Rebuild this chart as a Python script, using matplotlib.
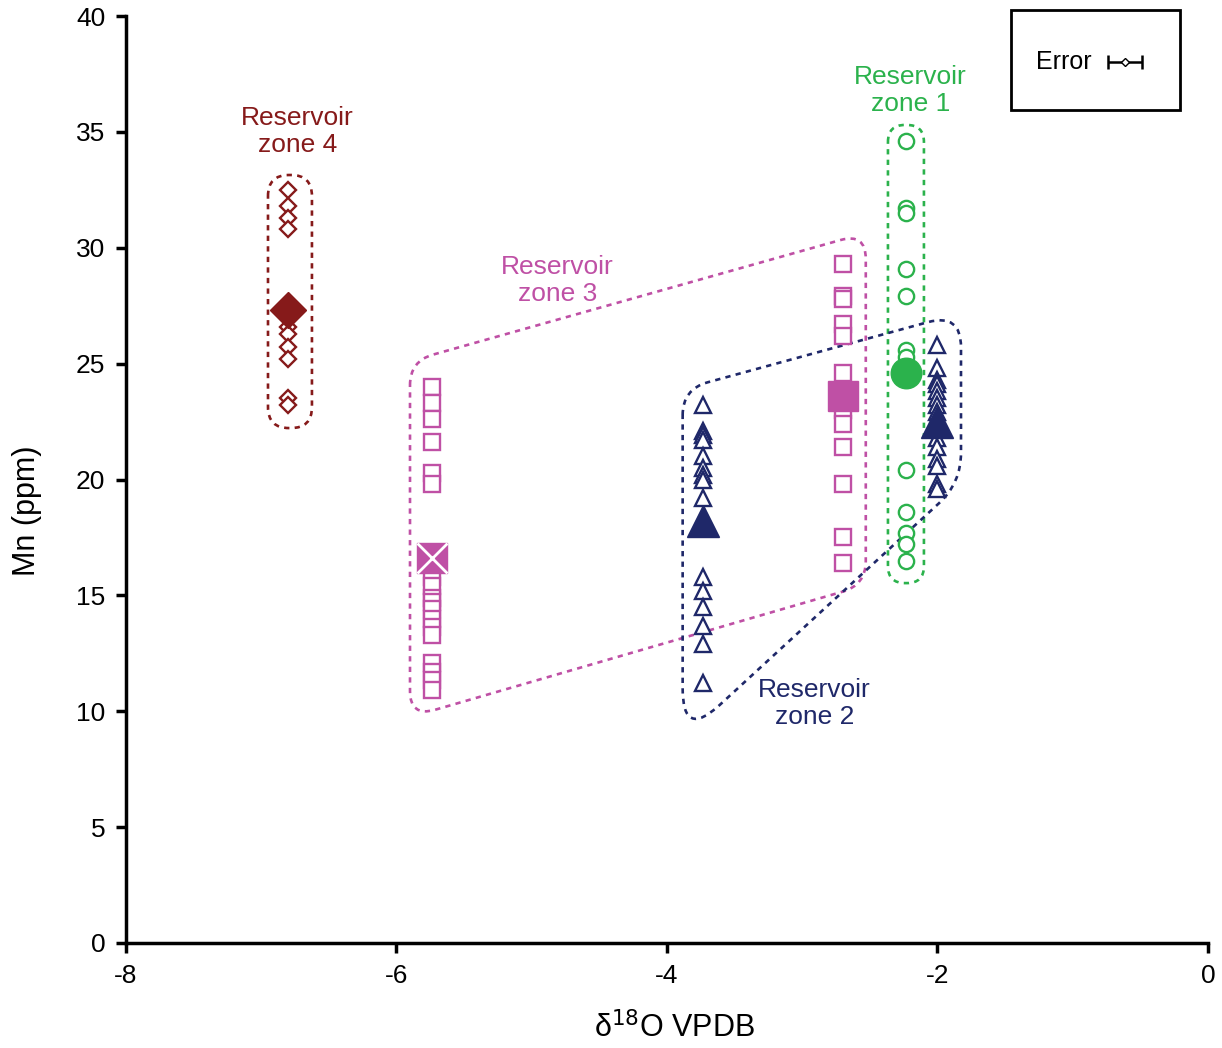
import matplotlib
matplotlib.use('agg')
import matplotlib.pyplot as plt
import numpy as np
from matplotlib.path import Path
import matplotlib.patches as patches

plt.rcParams['font.family'] = ['Liberation Sans', 'DejaVu Sans']
plt.rcParams['axes.unicode_minus'] = False

# --- data ---
z4_x = -6.8
z4_mn = [32.5, 31.8, 31.3, 30.8, 26.6, 26.3, 25.7, 25.2, 23.5, 23.2]
z4_mean = 27.3

z3a_x = -5.74
z3a_mn = [24.0, 23.3, 22.6, 21.6, 20.3, 19.8, 15.8, 15.4, 14.9, 14.7, 14.4,
          14.0, 13.65, 13.3, 12.1, 11.7, 11.35, 10.9]
z3a_mean = 16.6

z3b_x = -2.70
z3b_mn = [29.3, 27.9, 27.8, 26.7, 26.2, 24.6, 23.0, 22.4, 21.4, 19.8, 17.5, 16.4]
z3b_mean = 23.6

z2a_x = -3.73
z2a_mn = [23.2, 22.1, 21.9, 21.7, 21.0, 20.5, 20.2, 20.0, 19.2,
          15.8, 15.2, 14.5, 13.7, 12.9, 11.2]
z2a_mean = 18.2

z2b_x = -2.0
z2b_mn = [25.8, 24.8, 24.3, 24.1, 23.8, 23.5, 23.2, 22.9, 22.6, 21.8,
          21.4, 20.9, 20.6, 19.8, 19.6]
z2b_mean = 22.5

z1_x = -2.23
z1_mn = [34.6, 31.7, 31.5, 29.1, 27.9, 25.6, 25.3, 20.4, 18.6, 17.7, 17.2, 16.5]
z1_mean = 24.6

c4 = '#861a1a'
c3 = '#bf50a5'
c2 = '#1f2869'
c1 = '#2bb24c'

# envelope outlines: corners in data units, corner radius in pixels
env4 = [(-6.95, 33.14), (-6.625, 33.14), (-6.625, 22.22), (-6.95, 22.22)]
env1 = [(-2.366, 35.3), (-2.10, 35.3), (-2.10, 15.53), (-2.366, 15.53)]
env3 = [(-5.90, 25.11), (-2.53, 30.64), (-2.53, 15.45), (-5.90, 9.75)]
env2 = [(-3.884, 23.9), (-1.826, 27.18), (-1.826, 19.85), (-3.884, 8.8)]

fig = plt.figure(figsize=(12.22, 10.48), dpi=100)
ax = fig.add_axes([0.1031, 0.1002, 0.8854, 0.8845])
ax.set_xlim(-8, 0)
ax.set_ylim(0, 40)


def rounded(ax, verts, radii, color):
    # round the polygon corners in pixel space, then back to data
    tr = ax.transData
    P = tr.transform(np.array(verts))
    n = len(P)
    codes, pts = [], []
    for i in range(n):
        r = radii[i]
        p0, p1, p2 = P[i - 1], P[i], P[(i + 1) % n]
        d0 = (p0 - p1) / np.linalg.norm(p0 - p1)
        d2 = (p2 - p1) / np.linalg.norm(p2 - p1)
        pts += [p1 + d0 * r, p1, p1 + d2 * r]
        codes += [Path.MOVETO if i == 0 else Path.LINETO, Path.CURVE3, Path.CURVE3]
    pts.append(pts[0])
    codes.append(Path.LINETO)
    pts = tr.inverted().transform(np.array(pts))
    ax.add_patch(patches.PathPatch(Path(pts, codes), fill=False, edgecolor=color,
                                   lw=1.9, linestyle=(0, (2, 2)), zorder=1))


rounded(ax, env4, [21] * 4, c4)
rounded(ax, env1, [17] * 4, c1)
rounded(ax, env3, [24, 26, 24, 26], c3)
rounded(ax, env2, [26, 34, 30, 50], c2)

mk = dict(mfc='white', mew=1.7, ls='none', zorder=3)
ax.plot([z4_x] * len(z4_mn), z4_mn, 'D', ms=8.5, mec=c4, **mk)
ax.plot([z3a_x] * len(z3a_mn), z3a_mn, 's', ms=11, mec=c3, **mk)
ax.plot([z3b_x] * len(z3b_mn), z3b_mn, 's', ms=11, mec=c3, **mk)
ax.plot([z2a_x] * len(z2a_mn), z2a_mn, '^', ms=11, mec=c2, **mk)
ax.plot([z2b_x] * len(z2b_mn), z2b_mn, '^', ms=11, mec=c2, **mk)
ax.plot([z1_x] * len(z1_mn), z1_mn, 'o', ms=11, mec=c1, **mk)

# mean values
ax.plot(z4_x, z4_mean, 'D', ms=18, color=c4, zorder=4)
ax.plot(z3a_x, z3a_mean, 's', ms=21, color=c3, zorder=4)
ax.plot(z3a_x, z3a_mean, 'x', ms=21, color='white', mew=2, zorder=5)
ax.plot(z3b_x, z3b_mean, 's', ms=22, color=c3, zorder=4)
ax.plot(z2a_x, z2a_mean, '^', ms=23, color=c2, zorder=4)
ax.plot(z2b_x, z2b_mean, '^', ms=23, color=c2, zorder=4)
ax.plot(z1_x, z1_mean, 'o', ms=22, color=c1, zorder=4)

# zone labels
fs = 19
ax.text(-6.73, 35.0, 'Reservoir\nzone 4', color=c4, fontsize=fs, ha='center', va='center', linespacing=1.15)
ax.text(-4.81, 28.6, 'Reservoir\nzone 3', color=c3, fontsize=fs, ha='center', va='center', linespacing=1.15)
ax.text(-2.91, 10.35, 'Reservoir\nzone 2', color=c2, fontsize=fs, ha='center', va='center', linespacing=1.15)
ax.text(-2.20, 36.8, 'Reservoir\nzone 1', color=c1, fontsize=fs, ha='center', va='center', linespacing=1.15)

# error box
ax.add_patch(patches.Rectangle((-1.457, 35.94), 1.25, 4.32, fill=False, ec='black',
                               lw=2, clip_on=False, zorder=6))
ax.text(-1.27, 38.0, 'Error', fontsize=18, ha='left', va='center')
ax.errorbar(-0.614, 38.0, xerr=0.126, fmt='D', ms=4.5, mfc='white', mec='black',
            color='black', capsize=5, elinewidth=1.8, capthick=1.8, clip_on=False)

for s in ['top', 'right']:
    ax.spines[s].set_visible(False)
for s in ['left', 'bottom']:
    ax.spines[s].set_linewidth(2.5)
ax.set_xticks([-8, -6, -4, -2, 0])
ax.set_yticks(range(0, 41, 5))
ax.tick_params(direction='out', length=7, width=2.5, labelsize=19, pad=8)
ax.set_ylabel('Mn (ppm)', fontsize=22)
ax.yaxis.set_label_coords(-0.078, 0.466)
ax.set_xlabel('δ$^{18}$O VPDB', fontsize=22)
ax.xaxis.set_label_coords(0.507, -0.074)

fig.savefig('out.png', dpi=100)
